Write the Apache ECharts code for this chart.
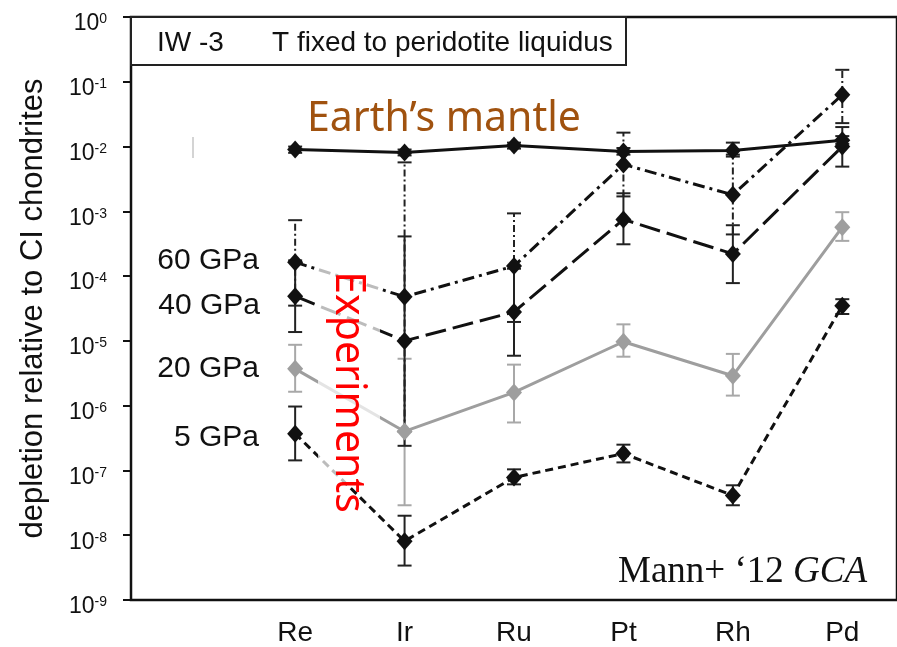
<!DOCTYPE html>
<html>
<head>
<meta charset="utf-8">
<script src="https://cdn.jsdelivr.net/npm/echarts@6/dist/echarts.min.js"></script>
<style>html,body{margin:0;padding:0;background:#fff}#c{width:897px;height:647px}</style>
</head>
<body>
<div id="c"></div>
<script>
// ---- data ----
var categories = ['Re', 'Ir', 'Ru', 'Pt', 'Rh', 'Pd'];

var mantle     = [9.0e-3, 8.1e-3, 1.04e-2, 8.4e-3, 8.7e-3, 1.25e-2];
var mantleLow  = [8.0e-3, 7.3e-3, 9.3e-3, 7.5e-3, 7.0e-3, 1.1e-2];
var mantleHigh = [1.0e-2, 9.0e-3, 1.15e-2, 9.5e-3, 1.15e-2, 1.45e-2];

var p60     = [1.64e-4, 4.8e-5, 1.43e-4, 5.3e-3, 1.8e-3, 6.3e-2];
var p60Low  = [3.5e-5, 4.0e-7, 1.96e-5, 1.7e-3, 4.4e-4, 2.3e-2];
var p60High = [7.3e-4, 5.7e-3, 9.3e-4, 1.64e-2, 7.5e-3, 1.53e-1];

var p40     = [4.9e-5, 1.0e-5, 2.8e-5, 7.5e-4, 2.2e-4, 1.0e-2];
var p40Low  = [1.37e-5, 2.4e-7, 5.9e-6, 3.1e-4, 7.8e-5, 4.9e-3];
var p40High = [1.75e-4, 4.1e-4, 1.3e-4, 1.9e-3, 6.1e-4, 2.0e-2];

var p20     = [3.7e-6, 4.0e-7, 1.6e-6, 9.7e-6, 2.9e-6, 5.7e-4];
var p20Low  = [1.64e-6, 2.9e-8, 5.5e-7, 5.7e-6, 1.43e-6, 3.5e-4];
var p20High = [8.7e-6, 5.3e-6, 4.3e-6, 1.8e-5, 6.3e-6, 9.7e-4];

var p5     = [3.7e-7, 8.1e-9, 7.8e-8, 1.82e-7, 4.1e-8, 3.5e-5];
var p5Low  = [1.43e-7, 3.4e-9, 6.1e-8, 1.33e-7, 2.9e-8, 2.6e-5];
var p5High = [9.7e-7, 2.0e-8, 1.04e-7, 2.5e-7, 5.9e-8, 4.4e-5];

var yExponents = ['0', '-1', '-2', '-3', '-4', '-5', '-6', '-7', '-8', '-9'];

// ---- helpers ----
var axisCats = [''].concat(categories);
function pts(arr) { return arr.map(function (v, i) { return [i + 1, v]; }); }
function bars(lo, hi) { return lo.map(function (v, i) { return [i + 1, v, hi[i]]; }); }

var SANS = '"Liberation Sans", Arial, sans-serif';
var INK = '#111';
var GRAY = '#9e9e9e';

function errSeries(lo, hi, color, dash, z) {
  return {
    type: 'custom',
    z: z,
    silent: true,
    data: bars(lo, hi),
    encode: { x: 0, y: [1, 2] },
    renderItem: function (params, api) {
      var x = api.value(0);
      var a = api.coord([x, api.value(1)]);
      var b = api.coord([x, api.value(2)]);
      var w = 7;
      var st = { stroke: color, lineWidth: 2, lineDash: dash || null };
      var cap = { stroke: color, lineWidth: 2 };
      return {
        type: 'group',
        children: [
          { type: 'line', shape: { x1: a[0], y1: a[1], x2: b[0], y2: b[1] }, style: st },
          { type: 'line', shape: { x1: a[0] - w, y1: a[1], x2: a[0] + w, y2: a[1] }, style: cap },
          { type: 'line', shape: { x1: b[0] - w, y1: b[1], x2: b[0] + w, y2: b[1] }, style: cap }
        ]
      };
    }
  };
}

function lineSeries(name, arr, color, type, z) {
  return {
    name: name,
    type: 'line',
    z: z,
    data: pts(arr),
    symbol: 'diamond',
    symbolSize: [16, 18],
    itemStyle: { color: color },
    lineStyle: { color: color, width: 3, type: type },
    animation: false
  };
}

var chart = echarts.init(document.getElementById('c'), null, { renderer: 'canvas' });
chart.setOption({
  animation: false,
  backgroundColor: '#fff',
  grid: {
    left: 131, top: 17, width: 771, height: 585,
    show: true, borderColor: INK, borderWidth: 2.5, backgroundColor: 'transparent'
  },
  xAxis: {
    type: 'category',
    data: axisCats,
    boundaryGap: true,
    axisLine: { show: false },
    axisTick: { show: false },
    splitLine: { show: false },
    axisLabel: { fontSize: 28, color: INK, fontFamily: SANS, margin: 19, interval: 0 }
  },
  yAxis: {
    type: 'log',
    logBase: 10,
    min: 1e-9,
    max: 1,
    splitNumber: 9,
    name: 'depletion relative to CI chondrites',
    nameLocation: 'middle',
    nameGap: 82,
    nameTextStyle: { fontSize: 31, color: INK, fontFamily: SANS },
    axisLine: { show: false },
    axisTick: { show: true, inside: false, length: 8, lineStyle: { color: INK, width: 2 } },
    splitLine: { show: false },
    minorTick: { show: false },
    axisLabel: {
      margin: 24,
      padding: [14, 0, 0, 0],
      formatter: function (v) {
        var e = Math.round(Math.log10(v));
        var s = yExponents[-e] !== undefined ? yExponents[-e] : String(e);
        return '{b|10}{s|' + s + '}';
      },
      rich: {
        b: { fontSize: 23, lineHeight: 23, color: INK, fontFamily: SANS },
        s: { fontSize: 14, lineHeight: 14, color: INK, fontFamily: SANS, verticalAlign: 'top' }
      }
    }
  },
  series: [
    errSeries(p20Low, p20High, '#a8a8a8', null, 2),
    errSeries(p5Low, p5High, '#222', null, 2),
    errSeries(p40Low, p40High, '#222', null, 2),
    errSeries(p60Low, p60High, '#222', [7, 3, 2, 3], 2),
    errSeries(mantleLow, mantleHigh, '#222', null, 2),
    lineSeries('5 GPa', p5, INK, [8, 5], 3),
    lineSeries('40 GPa', p40, INK, [21, 7], 3),
    lineSeries('60 GPa', p60, INK, [12, 5, 3, 5], 3),
    lineSeries('Earth mantle', mantle, INK, 'solid', 3),
    lineSeries('20 GPa', p20, GRAY, 'solid', 4)
  ],
  graphic: [
    { type: 'rect', z: 20, shape: { x: 131, y: 17, width: 495, height: 48 },
      style: { fill: '#fff', stroke: '#222', lineWidth: 2 } },
    { type: 'text', z: 21, x: 157, y: 43,
      style: { text: 'IW -3', fontSize: 28, fontFamily: SANS, fill: INK, verticalAlign: 'middle' } },
    { type: 'text', z: 21, x: 272, y: 43,
      style: { text: 'T fixed to peridotite liquidus', fontSize: 28, fontFamily: SANS, fill: INK, verticalAlign: 'middle' } },
    { type: 'line', z: 20, shape: { x1: 193, y1: 137, x2: 193, y2: 158 },
      style: { stroke: '#b8b8b8', lineWidth: 1.2 } },
    { type: 'text', z: 21, x: 307, y: 119,
      style: { text: 'Earth\u2019s mantle', fontSize: 41, fontFamily: '"Noto Sans", sans-serif', fill: '#A0520F', verticalAlign: 'middle' } },
    { type: 'rect', z: 20, shape: { x: 318, y: 248, width: 62, height: 237 },
      style: { fill: 'rgba(255,255,255,0.72)' } },
    { type: 'text', z: 21, x: 348, y: 392, rotation: -Math.PI / 2,
      style: { text: 'Experiments', fontSize: 41, fontFamily: '"Noto Sans", sans-serif', fill: '#ff0000', align: 'center', verticalAlign: 'middle' } },
    { type: 'text', z: 21, x: 259, y: 261,
      style: { text: '60 GPa', fontSize: 30, fontFamily: SANS, fill: INK, align: 'right', verticalAlign: 'middle' } },
    { type: 'text', z: 21, x: 260, y: 306,
      style: { text: '40 GPa', fontSize: 30, fontFamily: SANS, fill: INK, align: 'right', verticalAlign: 'middle' } },
    { type: 'text', z: 21, x: 259, y: 369,
      style: { text: '20 GPa', fontSize: 30, fontFamily: SANS, fill: INK, align: 'right', verticalAlign: 'middle' } },
    { type: 'text', z: 21, x: 259, y: 438,
      style: { text: '5 GPa', fontSize: 30, fontFamily: SANS, fill: INK, align: 'right', verticalAlign: 'middle' } },
    { type: 'text', z: 21, x: 867, y: 572,
      style: { rich: { n: { fontSize: 37, fontFamily: '"Liberation Serif", serif', fill: INK }, i: { fontSize: 37, fontFamily: '"Liberation Serif", serif', fontStyle: 'italic', fill: INK } },
        text: '{n|Mann+ \u201812 }{i|GCA}', align: 'right', verticalAlign: 'middle' } }
  ]
});
</script>
</body>
</html>
